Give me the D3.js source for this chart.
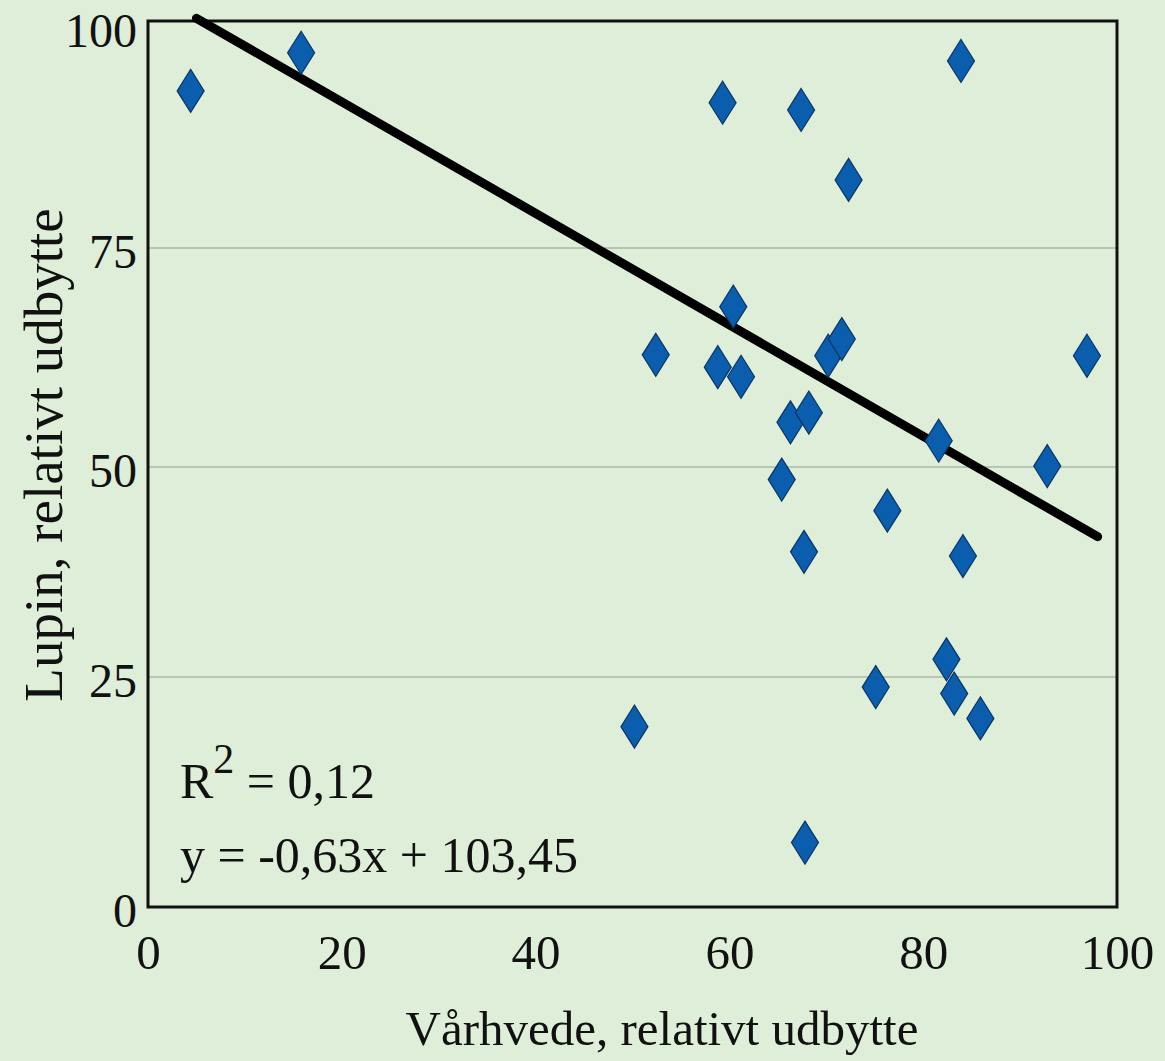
<!DOCTYPE html>
<html>
<head>
<meta charset="utf-8">
<script src="https://cdn.jsdelivr.net/npm/d3@7"></script>
<style>
  html, body { margin: 0; padding: 0; background: #dfeed8; }
  svg { display: block; }
  text { font-family: "Liberation Serif", "Times New Roman", serif; fill: #111; }
</style>
</head>
<body>
<svg id="chart" width="1165" height="1061"></svg>
<script>
// ---- data ----
const varhvede = [4.4, 15.8, 59.3, 67.4, 72.3, 83.9, 60.4, 52.4, 58.8, 61.2, 70.2, 71.6, 66.3, 68.2,
                  65.4, 67.7, 76.3, 81.6, 92.8, 96.9, 84.1, 50.2, 75.1, 82.4, 83.2, 85.9, 67.8];
const lupin    = [92.3, 96.5, 91.0, 90.2, 82.5, 95.6, 68.3, 62.8, 61.4, 60.3, 62.7, 64.6, 55.1, 56.2,
                  48.5, 39.9, 44.8, 53.0, 50.1, 62.7, 39.4, 19.6, 23.9, 27.1, 23.2, 20.5, 7.0];
const xTicks = [0, 20, 40, 60, 80, 100];
const yTicks = [0, 25, 50, 75, 100];
const gridTicks = [25, 50, 75];
const trendSlope = -0.63;
const trendIntercept = 103.45;
const trendRange = [5, 98];
const r2Text = "0,12";
const eqText = "y = -0,63x + 103,45";
const xTitle = "Vårhvede, relativt udbytte";
const yTitle = "Lupin, relativt udbytte";

// ---- drawing ----
const svg = d3.select("#chart");
const x = d3.scaleLinear().domain([0, 100]).range([148, 1117]);
const y = d3.scaleLinear().domain([0, 25, 50, 75, 100]).range([907, 677, 467, 248, 21]);

svg.append("rect").attr("width", 1165).attr("height", 1061).attr("fill", "#dfeed8");

// gridlines
svg.append("g").selectAll("line").data(gridTicks).join("line")
  .attr("x1", x(0)).attr("x2", x(100))
  .attr("y1", d => y(d)).attr("y2", d => y(d))
  .attr("stroke", "#a9baa4").attr("stroke-width", 1.3);

// frame
svg.append("rect")
  .attr("x", x(0)).attr("y", y(100))
  .attr("width", x(100) - x(0)).attr("height", y(0) - y(100))
  .attr("fill", "none").attr("stroke", "#111").attr("stroke-width", 3);

// axes (labels only)
const xAxis = d3.axisBottom(x).tickValues(xTicks).tickSize(0).tickPadding(0).tickFormat(d3.format("d"));
const gx = svg.append("g").attr("transform", `translate(0, ${y(0)})`).call(xAxis);
gx.select(".domain").remove();
gx.selectAll("text").attr("font-size", 49).attr("fill", "#111")
  .attr("y", 62).attr("dy", null)
  .style("font-family", '"Liberation Serif", serif');

const yAxis = d3.axisLeft(y).tickValues(yTicks).tickSize(0).tickPadding(0).tickFormat(d3.format("d"));
const gy = svg.append("g").attr("transform", `translate(${x(0) - 11}, 0)`).call(yAxis);
gy.select(".domain").remove();
gy.selectAll("text").attr("font-size", 48).attr("fill", "#111")
  .attr("x", 0).attr("y", d => (d === 100 ? 8 : 2)).attr("dy", "0.37em")
  .style("font-family", '"Liberation Serif", serif');

// trend line
const line = d3.line().x(d => x(d)).y(d => y(trendSlope * d + trendIntercept));
svg.append("path").datum(trendRange)
  .attr("d", line).attr("fill", "none")
  .attr("stroke", "#000").attr("stroke-width", 9).attr("stroke-linecap", "round");

// diamonds
const diamond = "M0,-21.5 L13.5,0 L0,21.5 L-13.5,0 Z";
svg.append("g").selectAll("path").data(varhvede.map((v, i) => [v, lupin[i]])).join("path")
  .attr("transform", d => `translate(${x(d[0])}, ${y(d[1])})`)
  .attr("d", diamond)
  .attr("fill", "#0b5eae").attr("stroke", "#0a3566").attr("stroke-width", 1.2);

// R² and equation
const r2 = svg.append("text").attr("x", 180).attr("y", 798).attr("font-size", 50);
r2.append("tspan").text("R");
r2.append("tspan").attr("font-size", 42).attr("dy", -25).text("2");
r2.append("tspan").attr("dy", 25).text(" = " + r2Text);

svg.append("text").attr("x", 180).attr("y", 872).attr("font-size", 50).text(eqText);

// axis titles
svg.append("text").attr("x", 662).attr("y", 1045).attr("text-anchor", "middle")
  .attr("font-size", 49).text(xTitle);
svg.append("text").attr("transform", "translate(62, 455) rotate(-90)")
  .attr("text-anchor", "middle").attr("font-size", 55).text(yTitle);
</script>
</body>
</html>
